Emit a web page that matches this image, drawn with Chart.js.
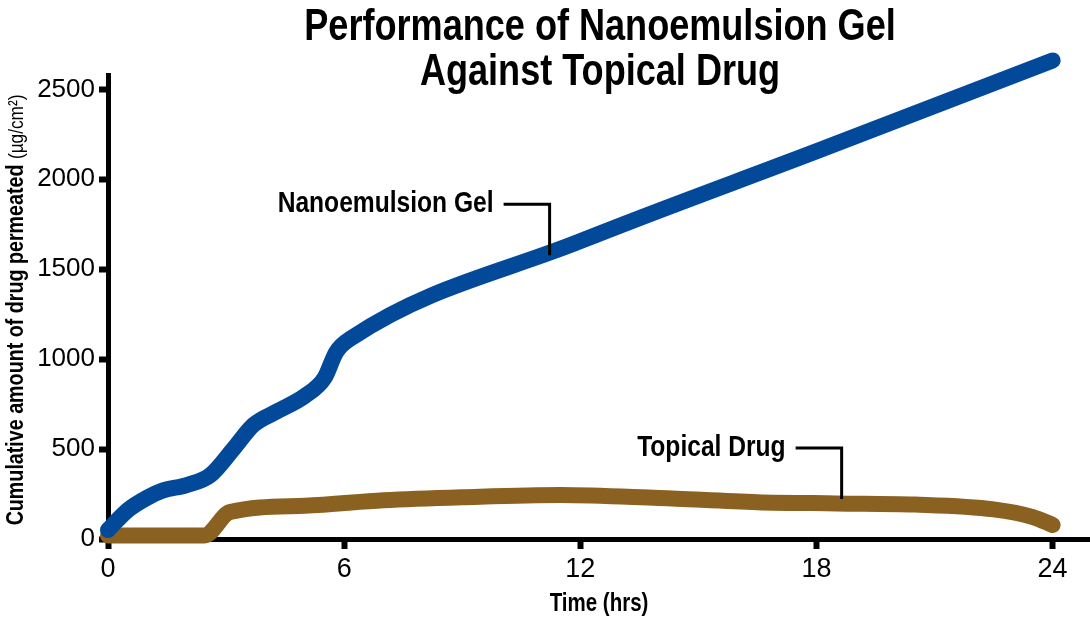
<!DOCTYPE html>
<html>
<head>
<meta charset="utf-8">
<script src="https://cdn.jsdelivr.net/npm/chart.js@4.4.1/dist/chart.umd.min.js"></script>
<style>
  body { margin: 0; background: #fff; }
  canvas { display: block; }
</style>
</head>
<body>
<canvas id="permeationChart" width="1090" height="623"></canvas>
<script>
// Chart data
const gelHours = [0, 0.5, 1, 1.4, 2, 2.6, 3.2, 3.7, 4.3, 5, 5.5, 5.8, 6.2, 12, 18, 24];
const gelValues = [50, 160, 230, 270, 300, 355, 505, 635, 710, 795, 895, 1040, 1120, 1656, 2156, 2661];

const drugHours = [0, 2.45, 3.1, 5, 7, 9, 11.5, 14, 16.5, 18.5, 20.5, 22.5, 23.5, 24];
const drugValues = [20, 20, 150, 185, 215, 232, 245, 228, 205, 198, 192, 165, 122, 78];

const xTicks = [0, 6, 12, 18, 24];
const yTicks = [0, 500, 1000, 1500, 2000, 2500];

const titleLines = ['Performance of Nanoemulsion Gel', 'Against Topical Drug'];
const seriesNames = ['Nanoemulsion Gel', 'Topical Drug'];
const xTitle = 'Time (hrs)';
// where each callout line touches its curve (hours, value)
const calloutPoints = [[11.22, 1578], [18.64, 222]];

const FONT = "'Liberation Sans', Arial, sans-serif";
const NARROW = 0.82;   // squeeze text to look like a condensed face
const BLUE = '#03499a';
const BROWN = '#8a6121';

function toPoints(xs, ys) {
    return xs.map(function(x, i) { return { x: x, y: ys[i] }; });
}

// draw condensed text centred / right aligned at x
function narrowText(ctx, text, x, y, align) {
    ctx.save();
    ctx.translate(x, y);
    ctx.scale(NARROW, 1);
    ctx.textAlign = align;
    ctx.fillText(text, 0, 0);
    ctx.restore();
}

// Title, axis titles and series callouts
const decorPlugin = {
    id: 'decor',
    afterDraw: function(chart) {
        const ctx = chart.ctx;
        const xs = chart.scales.x;
        const ys = chart.scales.y;
        ctx.save();
        ctx.fillStyle = '#000';
        ctx.textBaseline = 'alphabetic';

        // title
        ctx.font = 'bold 44px ' + FONT;
        narrowText(ctx, titleLines[0], 600, 40, 'center');
        narrowText(ctx, titleLines[1], 600, 85, 'center');

        // x axis title
        ctx.font = 'bold 25px ' + FONT;
        narrowText(ctx, xTitle, (xs.left + xs.right) / 2, 611, 'center');

        // y axis title, bold part + regular unit
        ctx.save();
        ctx.translate(23, 310);
        ctx.rotate(-Math.PI / 2);
        ctx.scale(NARROW, 1);
        const boldPart = 'Cumulative amount of drug permeated ';
        const unitPart = '(\u00b5g/cm\u00b2)';
        ctx.font = 'bold 24px ' + FONT;
        const w1 = ctx.measureText(boldPart).width;
        ctx.font = '21px ' + FONT;
        const w2 = ctx.measureText(unitPart).width;
        const start = -(w1 + w2) / 2;
        ctx.textAlign = 'left';
        ctx.font = 'bold 24px ' + FONT;
        ctx.fillText(boldPart, start, 0);
        ctx.font = '21px ' + FONT;
        ctx.fillText(unitPart, start + w1, 0);
        ctx.restore();

        // callouts
        ctx.strokeStyle = '#000';
        ctx.lineWidth = 3;
        ctx.font = 'bold 30px ' + FONT;
        ctx.textBaseline = 'middle';
        calloutPoints.forEach(function(p, i) {
            const px = xs.getPixelForValue(p[0]);
            const py = ys.getPixelForValue(p[1]);
            const cy = py - 51;
            ctx.beginPath();
            ctx.moveTo(px, py);
            ctx.lineTo(px, cy);
            ctx.lineTo(px - 46, cy);
            ctx.stroke();
            narrowText(ctx, seriesNames[i], px - 56, cy, 'right');
        });
        ctx.restore();
    }
};

const ctx = document.getElementById('permeationChart').getContext('2d');
new Chart(ctx, {
    type: 'line',
    data: {
        datasets: [
            {
                label: seriesNames[0],
                data: toPoints(gelHours, gelValues),
                borderColor: BLUE,
                borderWidth: 16,
                borderCapStyle: 'round',
                borderJoinStyle: 'round',
                cubicInterpolationMode: 'monotone',
                pointRadius: 0,
                fill: false,
                clip: false
            },
            {
                label: seriesNames[1],
                data: toPoints(drugHours, drugValues),
                borderColor: BROWN,
                borderWidth: 16,
                borderCapStyle: 'round',
                borderJoinStyle: 'round',
                cubicInterpolationMode: 'monotone',
                pointRadius: 0,
                fill: false,
                clip: false
            }
        ]
    },
    options: {
        responsive: false,
        animation: false,
        layout: {
            padding: { top: 75, left: 0, right: 0, bottom: 0 }
        },
        plugins: {
            legend: { display: false },
            tooltip: { enabled: false }
        },
        scales: {
            x: {
                type: 'linear',
                min: 0,
                max: 24.95,
                afterBuildTicks: function(scale) {
                    scale.ticks = xTicks.map(function(v) { return { value: v }; });
                },
                afterFit: function(scale) { scale.height = 84; },
                border: { color: '#000', width: 5 },
                grid: {
                    drawOnChartArea: false,
                    drawTicks: true,
                    tickLength: 10,
                    tickWidth: 6,
                    tickColor: '#000'
                },
                ticks: {
                    color: '#000',
                    padding: 4,
                    font: { family: FONT, size: 27 },
                    callback: function(v) { return String(v); }
                }
            },
            y: {
                min: 0,
                max: 2580,
                afterBuildTicks: function(scale) {
                    scale.ticks = yTicks.map(function(v) { return { value: v }; });
                },
                afterFit: function(scale) { scale.width = 108; },
                border: { color: '#000', width: 5 },
                grid: {
                    drawOnChartArea: false,
                    drawTicks: true,
                    tickLength: 9,
                    tickWidth: 6,
                    tickColor: '#000'
                },
                ticks: {
                    color: '#000',
                    padding: 4,
                    font: { family: FONT, size: 26 },
                    callback: function(v) { return String(v); }
                }
            }
        }
    },
    plugins: [decorPlugin]
});
</script>
</body>
</html>
